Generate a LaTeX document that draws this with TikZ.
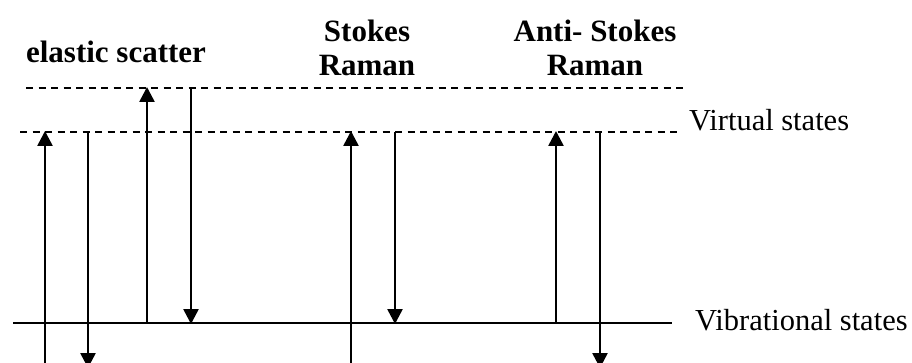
\documentclass[tikz,border=0pt]{standalone}
\usepackage{fontspec}
\setmainfont{Liberation Serif}
\usetikzlibrary{arrows.meta}
\begin{document}
\begin{tikzpicture}[x=1pt,y=-1pt,
  level/.style={line width=2.4pt},
  virt/.style={line width=1.7pt, dash pattern=on 7pt off 5.5pt},
  trans/.style={line width=2.6pt, -{Triangle[length=15pt,width=15pt]}, shorten >=-1pt},
  boldlabel/.style={font=\fontsize{31}{33}\selectfont\bfseries, align=center, inner sep=0pt},
  statelabel/.style={font=\fontsize{30.5}{33}\selectfont, anchor=base west, inner sep=0pt}]
\useasboundingbox (0,0) rectangle (912,363);
\clip (0,0) rectangle (912,363);
% levels
\coordinate (vu1) at (26,88);  \coordinate (vu2) at (686,88);
\coordinate (vl1) at (20,132); \coordinate (vl2) at (681,132);
\coordinate (g1) at (13,323);  \coordinate (g2) at (672,323);
\draw[virt] (vu1) -- (vu2);
\draw[virt] (vl1) -- (vl2);
\draw[level] (g1) -- (g2);
% labels
\node[boldlabel, anchor=base] (el) at (116,63) {elastic scatter};
\node[boldlabel, anchor=base] (st) at (367,42) {Stokes};
\node[boldlabel, anchor=base] (str) at (367,76) {Raman};
\node[boldlabel, anchor=base] (as) at (595,42) {Anti- Stokes};
\node[boldlabel, anchor=base] (asr) at (595,76) {Raman};
\node[statelabel] (vs) at (689,131) {Virtual states};
\node[statelabel] (vib) at (695,330) {Vibrational states};
% transition points
\coordinate (a1s) at (45,370);  \coordinate (a1e) at (45,132);
\coordinate (a2s) at (88,132);  \coordinate (a2e) at (88,367);
\coordinate (a3s) at (147,323); \coordinate (a3e) at (147,88);
\coordinate (a4s) at (191,88);  \coordinate (a4e) at (191,323);
\coordinate (a5s) at (351,370); \coordinate (a5e) at (351,132);
\coordinate (a6s) at (395,132); \coordinate (a6e) at (395,323);
\coordinate (a7s) at (556,323); \coordinate (a7e) at (556,132);
\coordinate (a8s) at (600,132); \coordinate (a8e) at (600,367);
\foreach \i in {1,...,8} \draw[trans] (a\i s) -- (a\i e);
\end{tikzpicture}
\end{document}
